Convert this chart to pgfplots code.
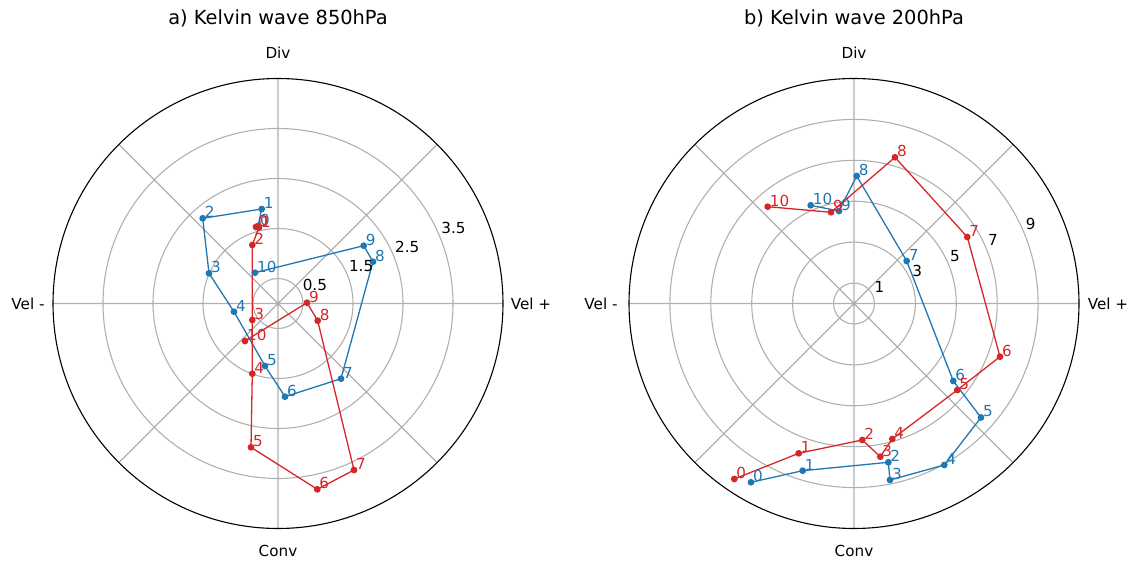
\documentclass[border=0pt]{standalone}
\usepackage{fontspec}
\setmainfont{DejaVu Sans}
\usepackage{pgfplots}
\pgfplotsset{compat=1.18}
\usepgfplotslibrary{polar}

\definecolor{tabblue}{HTML}{1F77B4}
\definecolor{tabred}{HTML}{D62728}
\definecolor{gridgray}{HTML}{B0B0B0}

\newcommand{\lblfont}{\fontsize{15.2bp}{17bp}\selectfont}
\newcommand{\ttlfont}{\fontsize{19.4bp}{22bp}\selectfont}

\pgfplotsset{
  kelvin/.style={
    scale only axis, width=450bp, height=450bp, anchor=center,
    xmin=0, xmax=360, ymin=0,
    xtick={0,45,...,315}, xticklabels={}, yticklabels={},
    xmajorgrids, ymajorgrids,
    major grid style={gridgray, line width=1.1bp},
    x axis line style={black, line width=1.1bp},
    y axis line style={draw=none},
    major tick length=0pt,
    tick style={draw=none},
    clip=false,
  },
  phase/.style={
    color=#1, line width=1.3bp, mark=*, mark size=2.7bp,
    mark options={solid, fill=#1, draw=#1},
    data cs=cart, point meta=explicit symbolic,
    nodes near coords,
    every node near coord/.append style={text=#1, font=\lblfont,
      anchor=base west, inner sep=0pt, xshift=1.5bp, yshift=0.5bp},
  },
}

\begin{document}
\begin{tikzpicture}
\useasboundingbox (0,0) rectangle (1133bp,564bp);

% ---- a) 850 hPa : (velocity, divergence) per phase ----
\begin{polaraxis}[kelvin, at={(278bp,260.5bp)}, ymax=4.5, ytick={0.5,1.5,2.5,3.5}]
\addplot[phase=tabblue] coordinates {
  (-0.40,1.55) [0] (-0.326,1.89) [1] (-1.506,1.704) [2] (-1.38,0.604) [3]
  (-0.88,-0.164) [4] (-0.26,-1.25) [5] (0.14,-1.864) [6] (1.26,-1.504) [7]
  (1.90,0.836) [8] (1.714,1.156) [9] (-0.46,0.616) [10]
};
\addplot[phase=tabred] coordinates {
  (-0.44,1.53) [0] (-0.38,1.52) [1] (-0.514,1.17) [2] (-0.514,-0.33) [3]
  (-0.514,-1.404) [4] (-0.54,-2.876) [5] (0.786,-3.716) [6] (1.52,-3.33) [7]
  (0.794,-0.344) [8] (0.58,0.016) [9] (-0.66,-0.75) [10]
};
\end{polaraxis}

% ---- b) 200 hPa ----
\begin{polaraxis}[kelvin, at={(854bp,260.5bp)}, ymax=11, ytick={1,3,5,7,9}]
\addplot[phase=tabblue] coordinates {
  (-5.036,-8.741) [0] (-2.508,-8.174) [1] (1.677,-7.764) [2] (1.760,-8.629) [3]
  (4.415,-7.896) [4] (6.209,-5.573) [5] (4.855,-3.789) [6] (2.576,2.078) [7]
  (0.132,6.233) [8] (-0.733,4.522) [9] (-2.117,4.801) [10]
};
\addplot[phase=tabred] coordinates {
  (-5.852,-8.580) [0] (-2.704,-7.324) [1] (0.406,-6.673) [2] (1.286,-7.490) [3]
  (1.872,-6.624) [4] (5.050,-4.229) [5] (7.138,-2.601) [6] (5.539,3.251) [7]
  (2.004,7.148) [8] (-1.124,4.459) [9] (-4.219,4.733) [10]
};
\end{polaraxis}

% radial tick labels along 22.5 degrees
\begin{scope}[every node/.style={font=\lblfont, anchor=base west, inner sep=0pt}]
  \node at (302.6bp,273.1bp) {0.5};
  \node at (348.8bp,292.2bp) {1.5};
  \node at (395.0bp,311.3bp) {2.5};
  \node at (441.2bp,330.5bp) {3.5};
  \node at (874.4bp,271.3bp) {1};
  \node at (912.2bp,287.0bp) {3};
  \node at (950.0bp,302.6bp) {5};
  \node at (987.8bp,318.3bp) {7};
  \node at (1025.6bp,334.0bp) {9};
\end{scope}

% angular labels
\begin{scope}[every node/.style={font=\lblfont, anchor=center, inner sep=0pt}]
  \node at (278bp,511bp) {Div};
  \node at (278bp,13bp) {Conv};
  \node at (531bp,260.5bp) {Vel +};
  \node at (28bp,260.5bp) {Vel -};
  \node at (854bp,511bp) {Div};
  \node at (854bp,13bp) {Conv};
  \node at (1108bp,260.5bp) {Vel +};
  \node at (601bp,260.5bp) {Vel -};
\end{scope}

% titles
\node[font=\ttlfont, anchor=center] at (278bp,546bp) {a) Kelvin wave 850hPa};
\node[font=\ttlfont, anchor=center] at (854bp,546bp) {b) Kelvin wave 200hPa};
\end{tikzpicture}
\end{document}
